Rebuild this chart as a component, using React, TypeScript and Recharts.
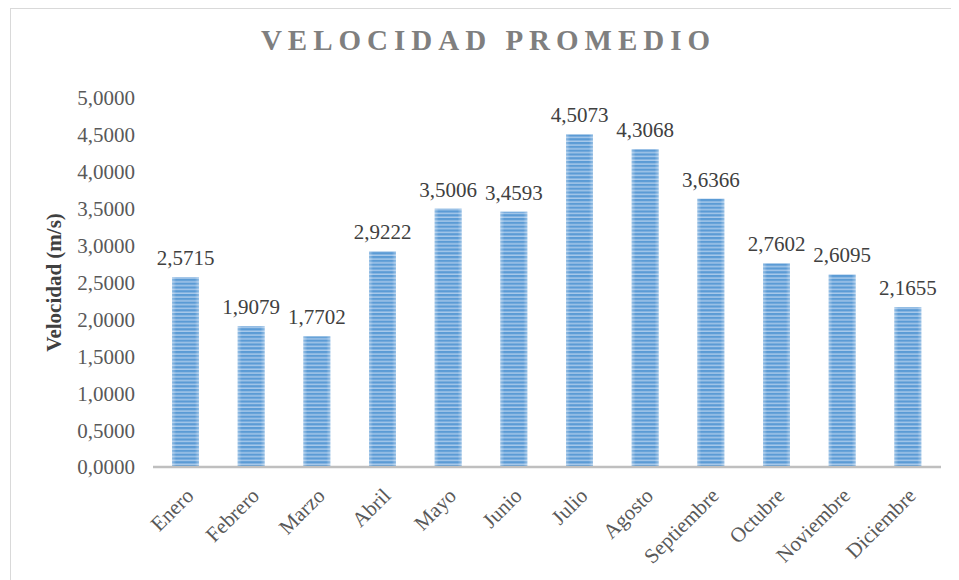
import { Bar, BarChart, LabelList, XAxis, YAxis } from 'recharts'

const MONTHS = [
  'Enero',
  'Febrero',
  'Marzo',
  'Abril',
  'Mayo',
  'Junio',
  'Julio',
  'Agosto',
  'Septiembre',
  'Octubre',
  'Noviembre',
  'Diciembre',
]
const VELOCITY = [2.5715, 1.9079, 1.7702, 2.9222, 3.5006, 3.4593, 4.5073, 4.3068, 3.6366, 2.7602, 2.6095, 2.1655]
const Y_TICKS = [0, 0.5, 1, 1.5, 2, 2.5, 3, 3.5, 4, 4.5, 5]

const data = MONTHS.map((month, i) => ({ month, value: VELOCITY[i] }))

const FONT = '"Liberation Serif", "Times New Roman", serif'
const fmt = (v: number) => v.toFixed(4).replace('.', ',')

function StripedBar(props: any) {
  const { x, y, width, height } = props
  if (!height || height <= 0) return null
  return (
    <g>
      <rect x={x} y={y} width={width} height={height} fill="url(#stripes)" />
      <rect x={x} y={y} width={width} height={height} fill="url(#edgeGlow)" />
    </g>
  )
}

function MonthTick({ x, y, payload }: any) {
  return (
    <text
      transform={`translate(${x + 9},${y + 22}) rotate(-45)`}
      textAnchor="end"
      fontFamily={FONT}
      fontSize={21}
      fill="#595959"
    >
      {payload.value}
    </text>
  )
}

export default function App() {
  return (
    <div
      style={{
        position: 'relative',
        marginLeft: 2,
        width: 947,
        height: 580,
        border: '1px solid #d9d9d9',
        background: '#fff',
        boxSizing: 'content-box',
      }}
    >
      <div
        style={{
          position: 'absolute',
          left: 0,
          width: 947,
          top: 15,
          textAlign: 'center',
          fontFamily: FONT,
          fontWeight: 'bold',
          fontSize: 29,
          letterSpacing: 6,
          color: '#7f7f7f',
          paddingLeft: 8,
          boxSizing: 'border-box',
        }}
      >
        VELOCIDAD PROMEDIO
      </div>
      <BarChart
        width={947}
        height={571}
        data={data}
        margin={{ top: 89, right: 17, left: 0, bottom: 0 }}
      >
        <defs>
          <pattern id="stripes" width="8" height="3.8" patternUnits="userSpaceOnUse">
            <rect width="8" height="3.8" fill="#a7c8ea" />
            <rect width="8" height="2.3" fill="#5b9bd5" />
          </pattern>
          <linearGradient id="edgeGlow" x1="0" y1="0" x2="1" y2="0">
            <stop offset="0" stopColor="#ffffff" stopOpacity={0.35} />
            <stop offset="0.15" stopColor="#ffffff" stopOpacity={0} />
            <stop offset="0.85" stopColor="#ffffff" stopOpacity={0} />
            <stop offset="1" stopColor="#ffffff" stopOpacity={0.35} />
          </linearGradient>
        </defs>
        <XAxis
          dataKey="month"
          interval={0}
          height={113}
          tickLine={false}
          axisLine={{ stroke: '#bfbfbf', strokeWidth: 2.5 }}
          tick={<MonthTick />}
        />
        <YAxis
          width={142}
          domain={[0, 5]}
          ticks={Y_TICKS}
          tickFormatter={fmt}
          axisLine={false}
          tickLine={false}
          tickSize={0}
          tickMargin={18}
          tick={{ fontFamily: FONT, fontSize: 21, fill: '#595959' }}
          label={{
            value: 'Velocidad (m/s)',
            angle: -90,
            position: 'insideLeft',
            offset: 43,
            style: {
              fontFamily: FONT,
              fontSize: 21,
              fontWeight: 'bold',
              fill: '#404040',
              textAnchor: 'middle',
            },
          }}
        />
        <Bar dataKey="value" barSize={27} shape={<StripedBar />} isAnimationActive={false}>
          <LabelList
            dataKey="value"
            position="top"
            offset={12}
            formatter={(v: any) => fmt(Number(v))}
            style={{ fontFamily: FONT, fontSize: 21, fill: '#404040' }}
          />
        </Bar>
      </BarChart>
    </div>
  )
}
